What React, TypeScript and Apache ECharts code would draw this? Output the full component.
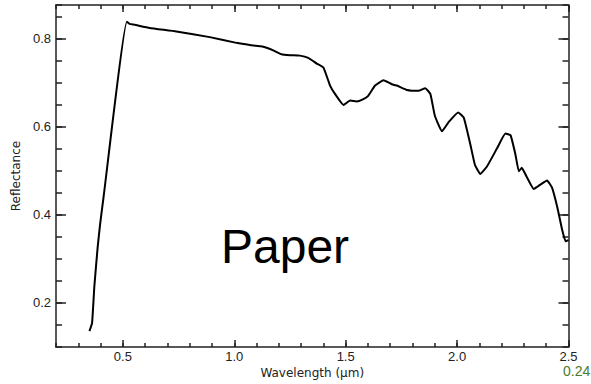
import React, { useEffect, useRef } from "react";
import * as echarts from "echarts";

const wavelength = [
  0.35, 0.362, 0.372, 0.387, 0.398, 0.413, 0.518, 0.53, 0.553, 0.62, 0.74, 0.89,
  1.01, 1.07, 1.13, 1.175, 1.212, 1.25, 1.295, 1.332, 1.37, 1.4, 1.43, 1.452,
  1.49, 1.52, 1.55, 1.575, 1.6, 1.632, 1.67, 1.707, 1.73, 1.775, 1.827, 1.857,
  1.88, 1.9, 1.932, 1.962, 2.005, 2.03, 2.06, 2.08, 2.104, 2.134, 2.18, 2.217,
  2.24, 2.262, 2.277, 2.29, 2.315, 2.344, 2.374, 2.404, 2.426, 2.45, 2.472,
  2.487, 2.5,
];
const reflectance = [
  0.136, 0.155, 0.237, 0.327, 0.379, 0.439, 0.839, 0.834, 0.832, 0.825, 0.817,
  0.804, 0.791, 0.786, 0.782, 0.774, 0.765, 0.763, 0.762, 0.757, 0.744, 0.735,
  0.694, 0.675, 0.65, 0.66, 0.658, 0.662, 0.67, 0.694, 0.706, 0.697, 0.694,
  0.684, 0.682, 0.688, 0.675, 0.626, 0.59, 0.611, 0.633, 0.621, 0.559, 0.514,
  0.493, 0.51, 0.552, 0.585, 0.581, 0.537, 0.499, 0.507, 0.484, 0.459, 0.469,
  0.478, 0.462, 0.417, 0.365, 0.34, 0.343,
];
const xMajorTicks = [0.5, 1.0, 1.5, 2.0, 2.5];
const yMajorTicks = [0.2, 0.4, 0.6, 0.8];
const xRange = [0.2, 2.5];
const yRange = [0.1, 0.877];

const AX = "#222";

function xAxisDef(position: string, major: boolean, labels: boolean, line: boolean) {
  return {
    type: "value",
    position,
    min: xRange[0],
    max: xRange[1],
    interval: major ? undefined : 0.1,
    axisLine: { show: line, onZero: false, lineStyle: { color: AX, width: 1.5 } },
    axisTick: major
      ? { show: true, inside: true, length: 7, customValues: xMajorTicks, lineStyle: { color: AX, width: 1.5 } }
      : { show: true, inside: true, length: 4, lineStyle: { color: AX, width: 1.5 } },
    axisLabel: labels
      ? {
          show: true,
          customValues: xMajorTicks,
          formatter: (v: number) => v.toFixed(1),
          color: AX,
          fontSize: 13,
          fontFamily: "Liberation Sans",
          margin: 3,
        }
      : { show: false },
    splitLine: { show: false },
  };
}

function yAxisDef(position: string, major: boolean, labels: boolean, line: boolean) {
  return {
    type: "value",
    position,
    min: yRange[0],
    max: yRange[1],
    interval: major ? undefined : 0.05,
    axisLine: { show: line, onZero: false, lineStyle: { color: AX, width: 1.5 } },
    axisTick: major
      ? { show: true, inside: true, length: 10, customValues: yMajorTicks, lineStyle: { color: AX, width: 1.5 } }
      : { show: true, inside: true, length: 6, lineStyle: { color: AX, width: 1.5 } },
    axisLabel: labels
      ? {
          show: true,
          customValues: yMajorTicks,
          formatter: (v: number) => v.toFixed(1),
          color: AX,
          fontSize: 13,
          fontFamily: "Liberation Sans",
          margin: 5,
        }
      : { show: false },
    splitLine: { show: false },
  };
}

export default function App() {
  const ref = useRef<HTMLDivElement>(null);
  useEffect(() => {
    if (!ref.current) return;
    const chart = echarts.init(ref.current, undefined, { renderer: "svg" });
    const data = wavelength.map((w, i) => [w, reflectance[i]]);
    const xs: any[] = [
      {
        ...xAxisDef("bottom", false, false, true),
        name: "Wavelength (\u03bcm)",
        nameLocation: "middle",
        nameGap: 20,
        nameTextStyle: { color: "#222", fontSize: 12, fontFamily: "DejaVu Sans" },
      },
      xAxisDef("bottom", true, true, false),
      xAxisDef("top", false, false, true),
      xAxisDef("top", true, false, false),
    ];
    const ys: any[] = [
      {
        ...yAxisDef("left", false, false, true),
        name: "Reflectance",
        nameLocation: "middle",
        nameRotate: 90,
        nameGap: 34,
        nameTextStyle: { color: "#222", fontSize: 12, fontFamily: "DejaVu Sans" },
      },
      yAxisDef("left", true, true, false),
      yAxisDef("right", false, false, true),
      yAxisDef("right", true, false, false),
    ];
    chart.setOption({
      animation: false,
      backgroundColor: "#fff",
      grid: { left: 56, top: 5, right: 22.5, bottom: 34, containLabel: false },
      xAxis: xs,
      yAxis: ys,
      series: [
        {
          type: "line",
          data,
          xAxisIndex: 0,
          yAxisIndex: 0,
          showSymbol: false,
          smooth: 0.12,
          lineStyle: { color: "#000", width: 2 },
        },
      ],
      graphic: [
        {
          type: "text",
          left: 221,
          top: 222,
          style: { text: "Paper", fontSize: 48, fontFamily: "Liberation Sans", fill: "#000" },
        },
        {
          type: "rect",
          left: 562,
          top: 363,
          shape: { width: 29, height: 21 },
          style: { fill: "#fff" },
        },
        {
          type: "text",
          left: 563,
          top: 364,
          style: { text: "0.24", fontSize: 14, fontFamily: "Liberation Sans", fill: "#4a7a2c" },
        },
      ],
    });
    return () => chart.dispose();
  }, []);
  return (
    <div
      ref={ref}
      style={{ position: "fixed", left: 0, top: 0, width: 591, height: 384 }}
    />
  );
}
